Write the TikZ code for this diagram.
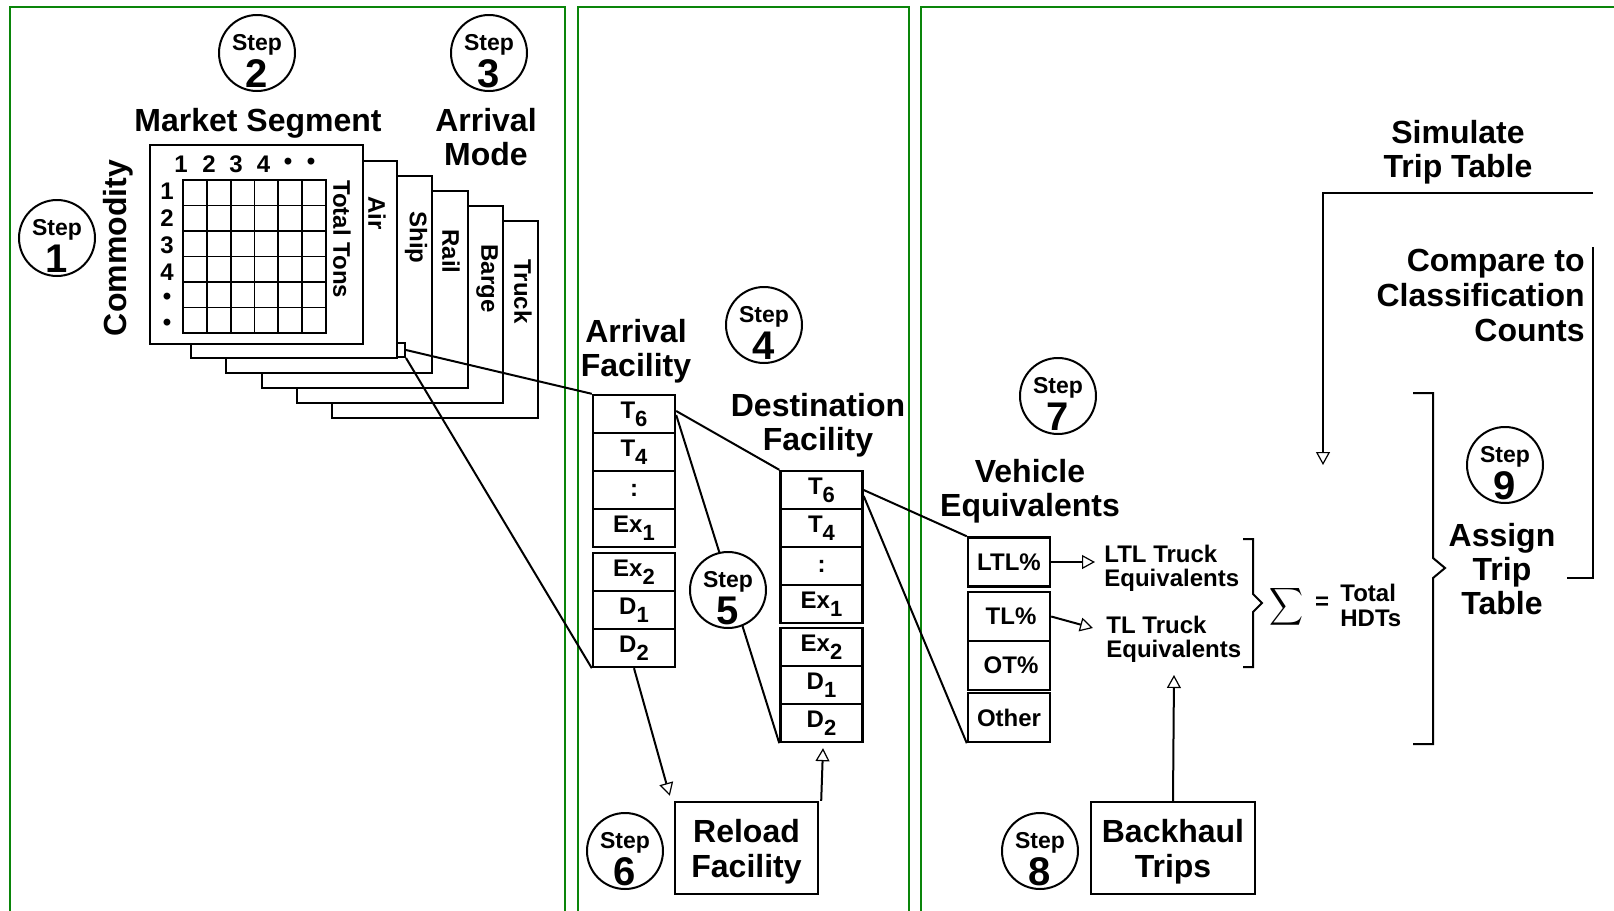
\documentclass[tikz,border=0pt]{standalone}
\usepackage{fontspec}
\setmainfont{Liberation Sans}
\usetikzlibrary{arrows.meta,calc}
\definecolor{framegreen}{HTML}{0A850A}
\newcommand{\sbs}[1]{\raisebox{-4pt}{\fontsize{11}{11}\selectfont #1}}
\newcommand{\stepmark}[3]{%
  \node[stepc] (#1) at (#2) {};
  \node[steplbl] (#1l) at ($(#1.center)+(0,-3)$) {Step};
  \node[stepnum] (#1n) at ($(#1.center)+(0,34)$) {#3};
}
\tikzset{
  frame/.style={draw=framegreen, line width=1.2pt},
  sheet/.style={draw, fill=white, line width=1pt, inner sep=0},
  gridl/.style={line width=0.9pt},
  stepc/.style={circle, draw, fill=white, line width=1pt, minimum size=38pt, inner sep=0},
  steplbl/.style={font=\fontsize{11.5}{12}\selectfont\bfseries, anchor=base, inner sep=0},
  stepnum/.style={font=\fontsize{20}{20}\selectfont\bfseries, anchor=base, inner sep=0},
  big/.style={font=\fontsize{16}{17}\selectfont\bfseries, align=center, inner sep=0},
  mid/.style={font=\fontsize{12}{12}\selectfont\bfseries, inner sep=0},
  side/.style={font=\fontsize{12}{12}\selectfont\bfseries, inner sep=0, rotate=-90, anchor=west},
  cell/.style={draw, fill=white, line width=1.2pt, minimum width=41pt, minimum height=19pt, inner sep=0, font=\fontsize{12}{12}\selectfont\bfseries},
  vcell/.style={cell, minimum height=24.5pt},
  conn/.style={line width=1pt},
  arr/.style={line width=1pt, -{Triangle[open, length=6.5pt, width=7pt, line width=0.6pt]}},
}
\begin{document}
\begin{tikzpicture}[x=0.5pt, y=-0.5pt]
\useasboundingbox[fill=white] (0,0) rectangle (1614,911);
% frames
\draw[frame] (10,911) -- (10,7) -- (565,7) -- (565,911);
\draw[frame] (578,911) -- (578,7) -- (909,7) -- (909,911);
\draw[frame] (921,911) -- (921,7) -- (1614,7);

% sheets (back to front)
\node[sheet, anchor=north west, minimum width=103pt, minimum height=98.5pt] (truck) at (331,220) {};
\node[sheet, anchor=north west, minimum width=103pt, minimum height=98.5pt] (barge) at (296,205) {};
\node[sheet, anchor=north west, minimum width=103pt, minimum height=98.5pt] (rail) at (261,190) {};
\node[sheet, anchor=north west, minimum width=103pt, minimum height=98.5pt] (ship) at (225,175) {};
\node[sheet, anchor=north west, minimum width=103pt, minimum height=98.5pt] (air) at (190,160) {};
\node[sheet, anchor=north west, minimum width=106.5pt, minimum height=99.5pt] (front) at (149,144) {};
\node[side] (ltruck) at (523,259) {Truck};
\node[side] (lbarge) at (487,244) {Barge};
\node[side] (lrail) at (451,229) {Rail};
\node[side] (lship) at (416,211) {Ship};
\node[side] (lair) at (377,196) {Air};
\node[side] (ltons) at (342,180) {Total Tons};
% grid
\draw[gridl] (183,180) rectangle (326,333);
\foreach \gx in {206.8,230.7,254.5,278.3,302.2} \draw[gridl] (\gx,180) -- (\gx,333);
\foreach \gy in {205.5,231,256.5,282,307.5} \draw[gridl] (183,\gy) -- (326,\gy);
\foreach \t/\px in {1/181,2/209,3/236,4/263.5,\textbullet/288,\textbullet/311}
  \node[mid] at (\px,164) {\t};
\foreach \t/\py in {1/191.5,2/218,3/245,4/272,\textbullet/298.5,\textbullet/325}
  \node[mid] at (167,\py) {\t};
\node[sheet, minimum width=4pt, minimum height=7pt, line width=1pt] (cellbox) at (401,350) {};

% titles
\node[big] (tms) at (258,123) {Market Segment};
\node[big] (tam) at (486,137) {Arrival\\Mode};
\node[big, rotate=90] (tcom) at (118,248) {Commodity};
\node[big] (taf) at (636,351) {Arrival\\Facility};
\node[big] (tdf) at (818,425) {Destination\\Facility};
\node[big] (tve) at (1030,491) {Vehicle\\Equivalents};
\node[big] (tst) at (1458,152) {Simulate\\Trip Table};
\node[big, align=right, anchor=east, font=\fontsize{16}{17.5}\selectfont\bfseries] (tcc) at (1585,295) {Compare to\\Classification\\Counts};
\node[big] (tat) at (1502,569) {Assign\\Trip\\Table};

% arrival facility
\node[cell] (a1) at (634,414) {T\sbs{6}};
\node[cell] (a2) at (634,452) {T\sbs{4}};
\node[cell] (a3) at (634,490) {:};
\node[cell] (a4) at (634,528) {Ex\sbs{1}};
\node[cell] (a5) at (634,572) {Ex\sbs{2}};
\node[cell] (a6) at (634,610) {D\sbs{1}};
\node[cell] (a7) at (634,648) {D\sbs{2}};
% destination facility
\node[cell] (d1) at (821.5,490) {T\sbs{6}};
\node[cell] (d2) at (821.5,528) {T\sbs{4}};
\node[cell] (d3) at (821.5,566) {:};
\node[cell] (d4) at (821.5,604) {Ex\sbs{1}};
\node[cell] (d5) at (821.5,647) {Ex\sbs{2}};
\node[cell] (d6) at (821.5,685) {D\sbs{1}};
\node[cell] (d7) at (821.5,723) {D\sbs{2}};
% vehicle equivalents
\node[vcell] (v1) at (1009,562) {LTL\%};
\node[vcell] (v2) at (1009,616.5) {\,TL\%};
\node[vcell] (v3) at (1009,665.5) {\,OT\%};
\node[vcell] (v4) at (1009,717.5) {Other};

% boxes bottom
\node[draw, line width=1.2pt, minimum width=71.5pt, minimum height=46pt, big, inner sep=0, text depth=0pt] (reload) at (746.5,848) {Reload\\[0.5pt]Facility};
\node[draw, line width=1.2pt, minimum width=82pt, minimum height=46pt, big, inner sep=0, text depth=0pt] (back) at (1173,848) {Backhaul\\[0.5pt]Trips};

% labels right
\node[mid, align=left, anchor=west, font=\fontsize{12}{12.2}\selectfont\bfseries] (ltl) at (1104,568) {LTL Truck\\Equivalents};
\node[mid, align=left, anchor=west, font=\fontsize{12}{12.2}\selectfont\bfseries] (tl) at (1106,639.5) {TL Truck\\Equivalents};
\node[inner sep=0] (sig) at (1286,607) {\resizebox*{17pt}{21pt}{$\displaystyle\sum$}};
\node[mid] (eq) at (1322,603) {=};
\node[mid, align=left, anchor=west, font=\fontsize{12}{12.5}\selectfont\bfseries] (hdt) at (1340,605.5) {Total\\HDTs};

% connectors
\draw[conn] (cellbox.east) -- (a1.north west);
\draw[conn] (cellbox.south east) -- (a7.south west);
\draw[conn] ($(a1.east)+(0,-3)$) -- (d1.north west);
\draw[conn] ($(a1.east)+(0,1)$) -- (d7.south west);
\draw[conn] ($(d1.east)+(0,0)$) -- (v1.north west);
\draw[conn] ($(d1.east)+(0,6)$) -- (v4.south west);
\draw[arr] (a7.south) -- ($(reload.north west)+(-4,-5)$);
\draw[arr] ($(reload.north east)+(2,0)$) -- ($(d7.south)+(1.5,5)$);
\coordinate (ltltip) at (1095,562);
\coordinate (tltip) at (1093,628);
\coordinate (bktip) at (1174,675);
\draw[arr] (v1.east) -- (ltltip);
\draw[arr] (v2.east) -- (tltip);
\draw[arr] (back.north) -- (bktip);
% loops
\coordinate (loopA) at (1593,193);
\coordinate (loopB) at (1323,193);
\coordinate (loopTip) at (1323,465);
\coordinate (loopC) at (1567,578);
\coordinate (loopD) at (1593,578);
\coordinate (loopE) at (1593,247);
\draw[arr] (loopA) -- (loopB) -- (loopTip);
\draw[conn] (loopC) -- (loopD) -- (loopE);
% brackets
\draw[conn] (1243,539) -- (1253,539) -- (1253,594) -- (1262,603) -- (1253,612) -- (1253,667) -- (1243,667);
\draw[conn] (1413,393) -- (1433,393) -- (1433,558) -- (1445,568) -- (1433,578) -- (1433,744) -- (1413,744);

% steps
\stepmark{s1}{57,238}{1}
\stepmark{s2}{257,53}{2}
\stepmark{s3}{489,53}{3}
\stepmark{s4}{764,325}{4}
\stepmark{s5}{728,590}{5}
\stepmark{s6}{625,851}{6}
\stepmark{s7}{1058,396}{7}
\stepmark{s8}{1040,851}{8}
\stepmark{s9}{1505,465}{9}
\end{tikzpicture}
\end{document}
